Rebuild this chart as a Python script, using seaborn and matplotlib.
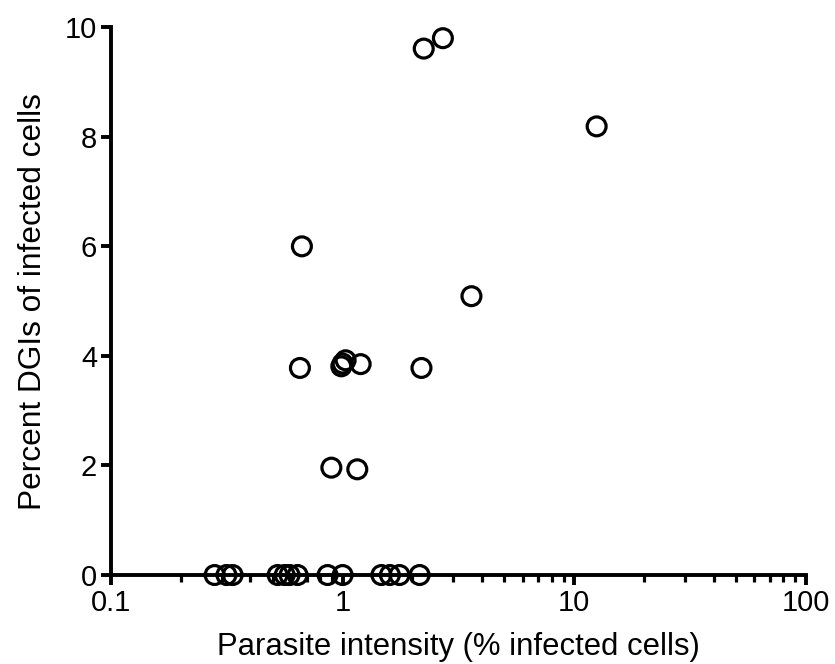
import matplotlib
matplotlib.use("Agg")
import matplotlib.pyplot as plt
import matplotlib.ticker as mticker
import seaborn as sns
import pandas as pd

# Data
intensity = [2.24, 2.71, 12.5, 0.667, 3.6, 0.654, 1.0, 1.03, 0.987, 1.196, 2.19, 0.894, 1.157,
             0.28, 0.315, 0.335, 0.524, 0.562, 0.590, 0.639, 0.861, 1.0, 1.47, 1.60, 1.76, 2.15]
percent_dgi = [9.61, 9.80, 8.19, 6.00, 5.09, 3.78, 3.86, 3.92, 3.81, 3.85, 3.78, 1.96, 1.93,
               0, 0, 0, 0, 0, 0, 0, 0, 0, 0, 0, 0, 0]
x_ticks = [0.1, 1, 10, 100]
x_tick_labels = ["0.1", "1", "10", "100"]
y_ticks = [0, 2, 4, 6, 8, 10]

df = pd.DataFrame({"x": intensity, "y": percent_dgi})

sns.set_style("ticks")
plt.rcParams['font.family'] = ['Liberation Sans', 'DejaVu Sans']

fig = plt.figure(figsize=(8.35, 6.64), dpi=100)
ax = fig.add_axes([0.133, 0.134, 0.832, 0.825])

sns.scatterplot(data=df, x="x", y="y", ax=ax, s=185, facecolor="none",
                edgecolor="black", linewidth=2.3, clip_on=False, zorder=5)

ax.set_xscale("log")
ax.set_xlim(0.1, 100)
ax.set_ylim(0, 10)
ax.set_xticks(x_ticks)
ax.set_xticklabels(x_tick_labels)
ax.xaxis.set_minor_locator(mticker.LogLocator(base=10, subs=range(2, 10)))
ax.xaxis.set_minor_formatter(mticker.NullFormatter())
ax.set_yticks(y_ticks)

for side in ["top", "right"]:
    ax.spines[side].set_visible(False)
for side in ["left", "bottom"]:
    ax.spines[side].set_linewidth(2.8)
    ax.spines[side].set_color("black")

ax.tick_params(axis="both", which="major", length=7, width=2.8, labelsize=21, pad=3,
               colors="black", labelcolor="black")
ax.tick_params(axis="x", which="minor", length=5, width=2.3, colors="black")

ax.set_xlabel("Parasite intensity (% infected cells)", fontsize=22.3, labelpad=11, color="black")
ax.set_ylabel("Percent DGIs of infected cells", fontsize=22.8, labelpad=12, color="black")

fig.savefig("out.png", dpi=100)
